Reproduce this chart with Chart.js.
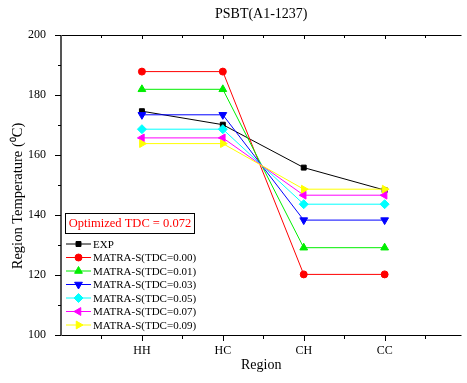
<!DOCTYPE html>
<html>
<head>
<meta charset="utf-8">
<script src="https://cdn.jsdelivr.net/npm/chart.js@4/dist/chart.umd.min.js"></script>
<style>
  html, body { margin: 0; padding: 0; background: #fff; overflow: hidden; }
  #wrap { position: relative; width: 467px; height: 383px; }
</style>
</head>
<body>
<div id="wrap"><canvas id="c"></canvas></div>
<script>
// PSBT(A1-1237) region temperatures, EXP vs MATRA-S at several TDC values.
const regions = ["HH", "HC", "CH", "CC"];
const expT   = [174.6, 170.1, 155.8, 148.3];
const tdc000 = [187.8, 187.8, 120.2, 120.2];
const tdc001 = [181.9, 181.9, 129.1, 129.1];
const tdc003 = [173.4, 173.4, 138.3, 138.3];
const tdc005 = [168.6, 168.6, 143.6, 143.6];
const tdc007 = [165.7, 165.7, 146.6, 146.6];
const tdc009 = [163.8, 163.8, 148.6, 148.6];
const yTicks = [100, 120, 140, 160, 180, 200];

const FONT = "'Liberation Serif', 'Times New Roman', serif";

const series = [
  { label: "EXP", data: expT, color: "#000000", style: "rect", rot: 0, r: 3.5 },
  { label: "MATRA-S(TDC=0.00)", data: tdc000, color: "#ff0000", style: "circle", rot: 0, r: 3.5 },
  { label: "MATRA-S(TDC=0.01)", data: tdc001, color: "#00ee00", style: "triangle", rot: 0, r: 4.5 },
  { label: "MATRA-S(TDC=0.03)", data: tdc003, color: "#0000ff", style: "triangle", rot: 180, r: 4.5 },
  { label: "MATRA-S(TDC=0.05)", data: tdc005, color: "#00ffff", style: "rectRot", rot: 0, r: 4.5 },
  { label: "MATRA-S(TDC=0.07)", data: tdc007, color: "#ff00ff", style: "triangle", rot: 270, r: 4.5 },
  { label: "MATRA-S(TDC=0.09)", data: tdc009, color: "#ffff00", style: "triangle", rot: 90, r: 4.5 },
];

const datasets = series.map((s, i) => ({
  label: s.label,
  data: s.data.map((v, k) => ({ x: k + 1, y: v })),
  borderColor: s.color,
  backgroundColor: s.color,
  borderWidth: 1,
  pointStyle: s.style,
  pointRotation: s.rot,
  pointRadius: s.r,
  pointBorderWidth: 1,
  pointHoverRadius: s.r,
  order: series.length - i,
  clip: false,
}));

// axes, ticks, titles, text box and legend
const decor = {
  id: "decor",
  afterDraw(chart) {
    const { ctx, chartArea: a, scales: { x, y } } = chart;
    ctx.save();
    ctx.strokeStyle = "#000";
    ctx.lineWidth = 1;
    // bottom + top axis
    ctx.beginPath();
    ctx.moveTo(a.left, a.bottom + 0.5); ctx.lineTo(a.right, a.bottom + 0.5);
    ctx.moveTo(a.left, a.top + 0.5); ctx.lineTo(a.right, a.top + 0.5);
    ctx.stroke();
    // left axis (greyish, heavier)
    ctx.strokeStyle = "#555";
    ctx.lineWidth = 2;
    ctx.beginPath();
    ctx.moveTo(a.left, a.top); ctx.lineTo(a.left, a.bottom + 1);
    ctx.stroke();
    ctx.strokeStyle = "#000";
    ctx.lineWidth = 1;
    ctx.beginPath();
    for (let v = 0.5; v < 5; v += 0.5) {
      const px = Math.round(x.getPixelForValue(v)) + 0.5;
      const major = Number.isInteger(v);
      ctx.moveTo(px, a.bottom); ctx.lineTo(px, a.bottom + (major ? 6 : 4));
      ctx.moveTo(px, a.top); ctx.lineTo(px, a.top + (major ? 4 : 3));
    }
    for (let v = 100; v <= 200; v += 10) {
      const py = Math.round(y.getPixelForValue(v)) + 0.5;
      const major = v % 20 === 0;
      ctx.moveTo(a.left - (major ? 6 : 3), py); ctx.lineTo(a.left, py);
    }
    ctx.stroke();

    // title
    ctx.fillStyle = "#000";
    ctx.font = "14px " + FONT;
    ctx.textAlign = "center";
    ctx.textBaseline = "middle";
    ctx.fillText("PSBT(A1-1237)", (a.left + a.right) / 2, 14);

    // y axis title
    ctx.save();
    ctx.translate(18, 196);
    ctx.rotate(-Math.PI / 2);
    ctx.font = "14.5px " + FONT;
    ctx.fillText("Region Temperature (\u2070C)", 0, 0);
    ctx.restore();

    // text box
    ctx.strokeStyle = "#000";
    ctx.strokeRect(65.5, 213.5, 129, 20);
    ctx.fillStyle = "#ff0000";
    ctx.font = "12.5px " + FONT;
    ctx.fillText("Optimized TDC = 0.072", 130, 224);

    // legend
    ctx.textAlign = "left";
    ctx.font = "11px " + FONT;
    series.forEach((s, i) => {
      const ly = 244 + i * 13.5;
      ctx.strokeStyle = s.color;
      ctx.lineWidth = 1;
      ctx.beginPath();
      ctx.moveTo(66, ly); ctx.lineTo(91, ly);
      ctx.stroke();
      ctx.fillStyle = s.color;
      Chart.helpers.drawPoint(ctx, {
        pointStyle: s.style, rotation: s.rot, radius: s.r, borderWidth: 1,
      }, 78.5, ly);
      ctx.fillStyle = "#000";
      ctx.fillText(s.label, 93, ly + 1);
    });
    ctx.restore();
  },
};

new Chart(document.getElementById("c"), {
  type: "line",
  data: { datasets },
  options: {
    responsive: true,
    maintainAspectRatio: false,
    animation: false,
    events: [],
    layout: { padding: { top: 35, left: 0, right: 0, bottom: 0 } },
    plugins: { legend: { display: false }, tooltip: { enabled: false }, title: { display: false } },
    scales: {
      x: {
        type: "linear",
        min: 0,
        max: 4.95,
        grid: { display: false },
        border: { display: false },
        afterBuildTicks: (s) => { s.ticks = regions.map((_, i) => ({ value: i + 1 })); },
        afterFit: (s) => { s.height = 48; },
        ticks: {
          padding: 1,
          color: "#000",
          font: { family: FONT, size: 12 },
          maxRotation: 0,
          callback: (v) => regions[v - 1] || "",
        },
        title: {
          display: true,
          text: "Region",
          color: "#000",
          font: { family: FONT, size: 14 },
          padding: { top: 0, bottom: 9 },
        },
      },
      y: {
        min: 100,
        max: 200,
        grid: { display: false },
        border: { display: false },
        afterBuildTicks: (s) => { s.ticks = yTicks.map((v) => ({ value: v })); },
        afterFit: (s) => { s.width = 61; },
        ticks: {
          padding: 7,
          color: "#000",
          font: { family: FONT, size: 12 },
        },
      },
    },
  },
  plugins: [decor],
});
</script>
</body>
</html>
